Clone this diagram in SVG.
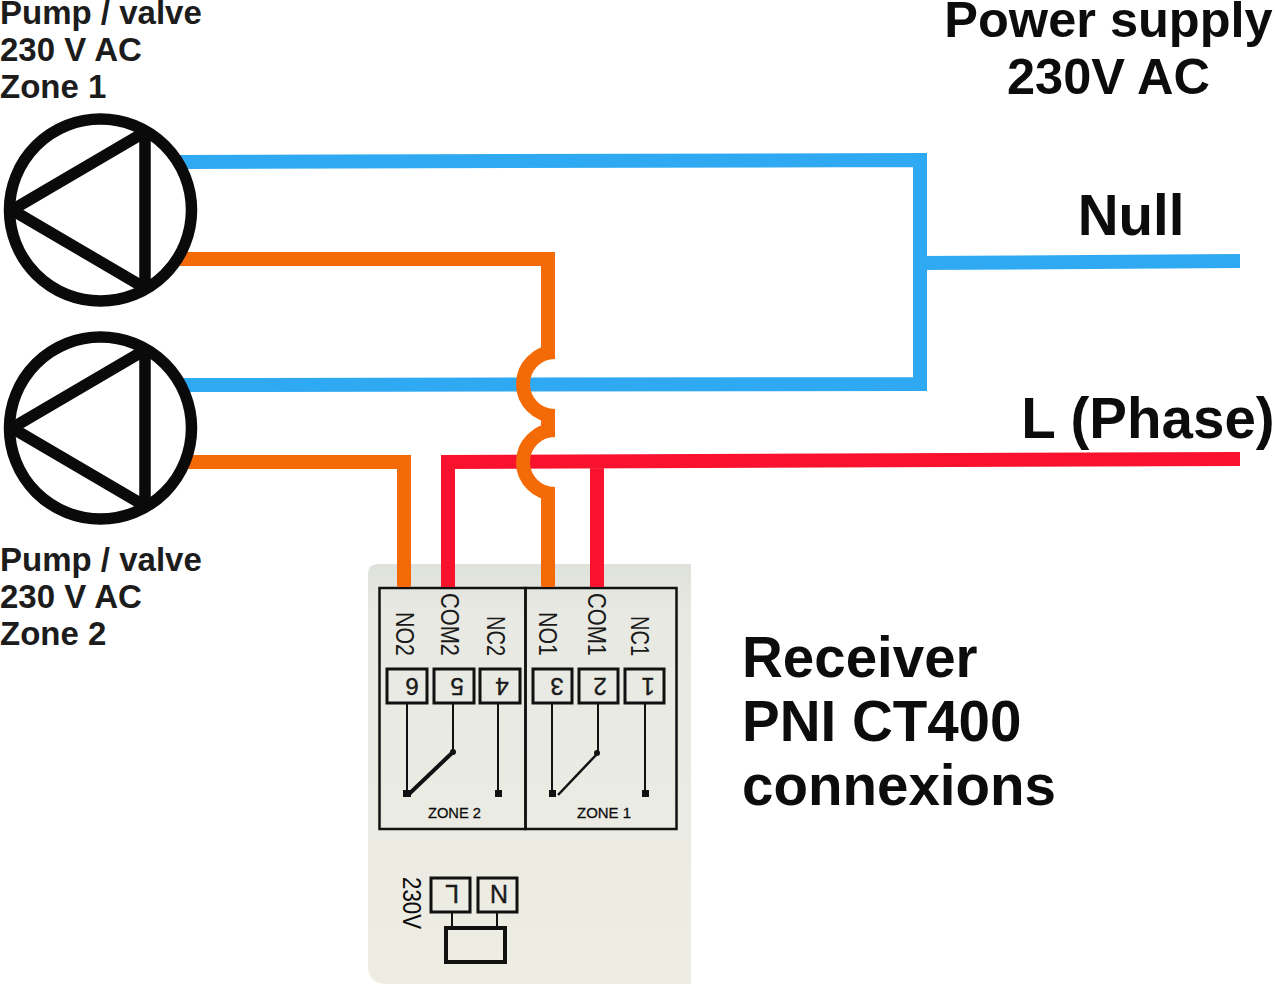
<svg xmlns="http://www.w3.org/2000/svg" width="1275" height="984" viewBox="0 0 1275 984">
<defs>
<linearGradient id="card" x1="0" y1="0" x2="0" y2="1"><stop offset="0" stop-color="#dfe2db"/><stop offset="0.12" stop-color="#e7e9e2"/><stop offset="1" stop-color="#eeede4"/></linearGradient>
</defs>
<style>
text{font-family:"Liberation Sans",Arial,sans-serif;fill:#0c0c0c}
.w{fill:none;stroke-width:14;stroke-linejoin:miter}
.b{stroke:#2fa9f2}.o{stroke:#f46a06}.r{stroke:#f9122e}
.p{fill:none;stroke:#0a0a0a;stroke-width:11.500;stroke-linejoin:bevel}
.k{fill:none;stroke:#111;stroke-width:2}
.t{fill:none;stroke:#111;stroke-width:3}
.lab{font-size:33px;font-weight:700;fill:#1c1c1c}
.big{font-size:56.500px;font-weight:700}
.sup{font-size:50.500px;font-weight:700}
.pr{font-size:25px;fill:#1a1a1a}
.num{font-size:24px;fill:#1a1a1a;stroke:#1a1a1a;stroke-width:.4;text-anchor:middle;dominant-baseline:central}
.zone{font-size:15px;stroke:#111;stroke-width:.3}
</style>
<g id="receiver">
<path d="M378 564H691V984H384Q368 982 368 966V574Q368 564 378 564Z" fill="url(#card)"/>
<rect x="379.500" y="588" width="146" height="241" class="k" style="stroke-width:2.500"/>
<rect x="525.500" y="588" width="151" height="241" class="k" style="stroke-width:2.500"/>
<rect x="387" y="669" width="40" height="34" class="t"/>
<rect x="434" y="669" width="40" height="34" class="t"/>
<rect x="480" y="669" width="40" height="34" class="t"/>
<rect x="533" y="669" width="39" height="34" class="t"/>
<rect x="579" y="669" width="39" height="34" class="t"/>
<rect x="625" y="669" width="39" height="34" class="t"/>
<path d="M407 703V793M453 703V752M498 703V793M552 703V793M598 703V752M645 703V793" class="k"/>
<path d="M453 752L409 794" class="t" style="stroke-width:4"/>
<path d="M597 754L558 795" class="k" style="stroke-width:2.500"/>
<rect x="403" y="790" width="8" height="7" fill="#111"/><rect x="495" y="790" width="7" height="7" fill="#111"/><rect x="549" y="790" width="7" height="7" fill="#111"/><rect x="642" y="790" width="7" height="7" fill="#111"/>
<circle cx="453" cy="752" r="3" fill="#111"/><circle cx="597" cy="753" r="3" fill="#111"/>
<text transform="translate(396,612) rotate(90)" class="pr" textLength="44" lengthAdjust="spacingAndGlyphs">NO2</text>
<text transform="translate(441,593) rotate(90)" class="pr" textLength="63" lengthAdjust="spacingAndGlyphs">COM2</text>
<text transform="translate(487,616) rotate(90)" class="pr" textLength="40" lengthAdjust="spacingAndGlyphs">NC2</text>
<text transform="translate(539,612) rotate(90)" class="pr" textLength="44" lengthAdjust="spacingAndGlyphs">NO1</text>
<text transform="translate(588,593) rotate(90)" class="pr" textLength="63" lengthAdjust="spacingAndGlyphs">COM1</text>
<text transform="translate(631,616) rotate(90)" class="pr" textLength="40" lengthAdjust="spacingAndGlyphs">NC1</text>
<text transform="translate(412,686) rotate(180)" class="num">6</text>
<text transform="translate(457,686) rotate(180)" class="num">5</text>
<text transform="translate(502,686) rotate(180)" class="num">4</text>
<text transform="translate(557,686) rotate(180)" class="num">3</text>
<text transform="translate(600,686) rotate(180)" class="num">2</text>
<text transform="translate(648,686) rotate(180)" class="num">1</text>
<text x="428" y="818" class="zone" textLength="53" lengthAdjust="spacingAndGlyphs">ZONE 2</text>
<text x="577" y="818" class="zone" textLength="54" lengthAdjust="spacingAndGlyphs">ZONE 1</text>
<rect x="431" y="878" width="39" height="34" class="t"/>
<rect x="478" y="878" width="39" height="34" class="t"/>
<path d="M452 912V928M497 912V928" class="k"/>
<rect x="446" y="928" width="59" height="34" class="t" style="stroke-width:4"/>
<text transform="translate(403,877) rotate(90)" font-size="26" textLength="52" lengthAdjust="spacingAndGlyphs">230V</text>
<text transform="translate(452,894) rotate(180)" class="num" style="font-size:25px">L</text>
<text transform="translate(499,894) rotate(180)" class="num" style="font-size:25px">N</text>
</g>
<g id="connectors">
<path class="w b" d="M178 162L920 160V384L178 385"/>
<path class="w b" d="M920 263L1240 261"/>
<path class="w r" d="M597 587V462M448 587V462L1240 459"/>
<path class="w o" d="M178 259H548V358M548 410V436M548 487V587"/>
<path class="w o" d="M555 352A32 32 0 0 0 555 416M555 430A32 32 0 0 0 555 494"/>
<path class="w o" d="M183 462H404V587"/>
</g>
<g id="pump1">
<circle cx="100.500" cy="210" r="91" class="p" style="fill:#fff"/>
<path d="M12 210L145 132V288Z" class="p"/>
</g>
<g id="pump2">
<circle cx="100.500" cy="428" r="91" class="p" style="fill:#fff"/>
<path d="M12 428L145 350V506Z" class="p"/>
</g>
<g id="labels">
<text class="lab"><tspan x="0" y="24">Pump / valve</tspan><tspan x="0" y="61">230 V AC</tspan><tspan x="0" y="98">Zone 1</tspan></text>
<text class="lab"><tspan x="0" y="571">Pump / valve</tspan><tspan x="0" y="608">230 V AC</tspan><tspan x="0" y="645">Zone 2</tspan></text>
<text x="1108.500" y="37" text-anchor="middle" class="sup">Power supply</text>
<text x="1108.500" y="94" text-anchor="middle" class="sup">230V AC</text>
<text x="1131" y="235" text-anchor="middle" class="big">Null</text>
<text x="1148" y="438" text-anchor="middle" class="big">L (Phase)</text>
<text class="big"><tspan x="742" y="677">Receiver</tspan><tspan x="742" y="741">PNI CT400</tspan><tspan x="742" y="805">connexions</tspan></text>
</g>
</svg>
